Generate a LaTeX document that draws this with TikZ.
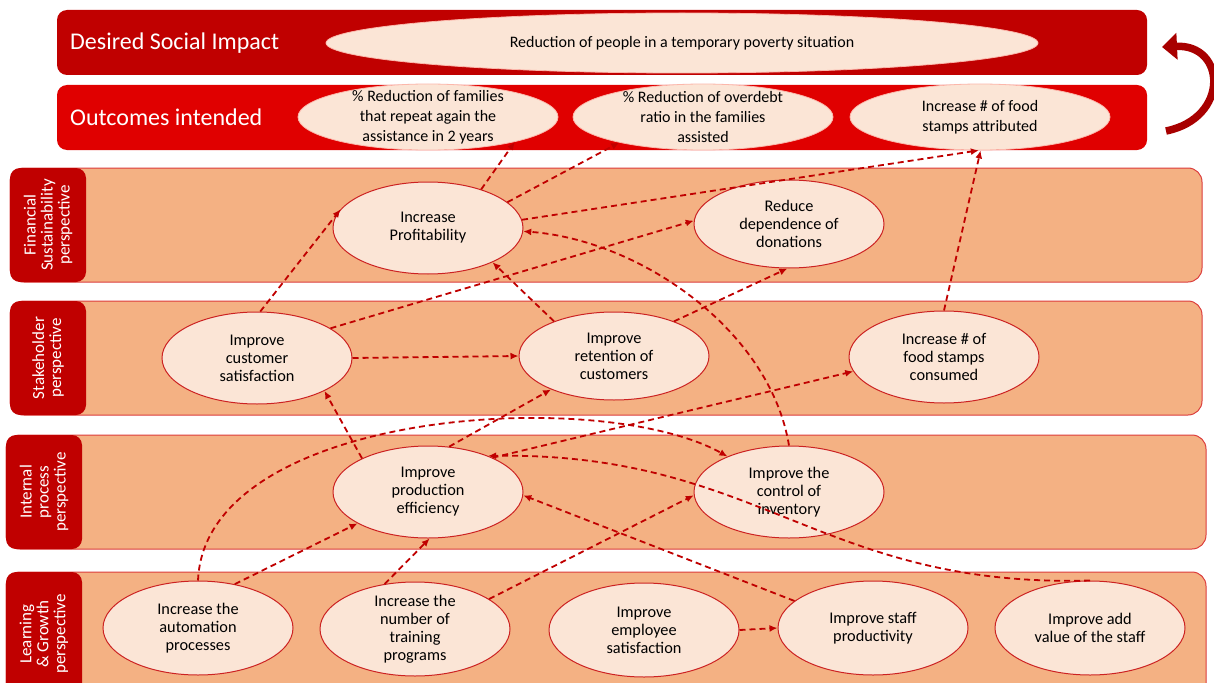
\documentclass[tikz,border=0pt]{standalone}
\usepackage{fontspec}
\setmainfont{Carlito}
\usetikzlibrary{arrows.meta,shapes.geometric}
\definecolor{dred}{HTML}{C00000}
\definecolor{bred}{HTML}{E00000}
\definecolor{bandfill}{HTML}{F4B183}
\definecolor{bandline}{HTML}{DC3C3C}
\definecolor{ellfill}{HTML}{FBE5D6}
\definecolor{ellline}{HTML}{CC2222}
\definecolor{connc}{HTML}{C00000}
\definecolor{carrow}{HTML}{A80000}
\tikzset{
  band/.style={fill=bandfill, draw=bandline, line width=1pt, rounded corners=14pt},
  persp/.style={fill=dred, rounded corners=10pt, text=white, align=center,
    font=\fontsize{17}{17}\selectfont, inner sep=0pt},
  topbar/.style={rounded corners=10pt},
  goal/.style={ellipse, fill=ellfill, draw=ellline, line width=1pt, align=center,
    minimum width=190pt, minimum height=92pt, inner sep=0pt, inner ysep=-8pt,
    font=\fontsize{16.3}{18}\selectfont},
  outell/.style={ellipse, fill=ellfill, draw=ellfill!80!red, line width=0.8pt, align=center,
    minimum width=260pt, minimum height=66pt, inner sep=0pt, inner xsep=-10pt, inner ysep=-12pt,
    font=\fontsize{16}{20}\selectfont},
  conn/.style={draw=connc, line width=1.8pt, dash pattern=on 6pt off 4pt,
    -{Latex[length=8pt,width=7pt]}},
  title/.style={text=white, anchor=west, font=\fontsize{24}{26}\selectfont, inner sep=0pt}
}
\begin{document}
\begin{tikzpicture}[x=1pt,y=-1pt]
\useasboundingbox (0,0) rectangle (1214,682);
\fill[white] (0,0) rectangle (1214,682);

% top bars
\fill[dred, topbar] (57,10) rectangle (1147,75);
\fill[bred, topbar] (57,85) rectangle (1147,150);
\node[title] (tsoc) at (70,43) {Desired Social Impact};
\node[title] (tout) at (70,117) {Outcomes intended};

\node[ellipse, fill=ellfill, draw=ellfill!80!red, line width=0.8pt, minimum width=712pt, minimum height=60pt, inner sep=0pt,
  font=\fontsize{16}{18}\selectfont] (imp) at (682,43) {Reduction of people in a temporary poverty situation};
\node[outell] (fam) at (428,117) {\% Reduction of families\\that repeat again the\\assistance in 2 years};
\node[outell] (debt) at (703,117) {\% Reduction of overdebt\\ratio in the families\\assisted};
\node[outell] (stA) at (980,117) {Increase \# of food\\stamps attributed};

% loop arrow
\draw[line width=7.5pt, color=carrow, -{Triangle[width=26pt,length=15pt]}] (1166,131) .. controls (1230,118) and (1226,44) .. (1162,47);

% bands
\draw[band] (10,168) rectangle (1202,282);
\draw[band] (10,301) rectangle (1202,415);
\draw[band] (6,435) rectangle (1206,549);
\draw[band] (6,572) rectangle (1206,700);

\node[persp, rotate=90, minimum width=114pt, minimum height=76pt] (lfin) at (48,225) {Financial\\Sustainability\\perspective};
\node[persp, rotate=90, minimum width=114pt, minimum height=76pt] (lsta) at (48,358) {Stakeholder\\perspective};
\node[persp, rotate=90, minimum width=114pt, minimum height=76pt] (lint) at (44,492) {Internal\\process\\perspective};
\node[persp, rotate=90, minimum width=124pt, minimum height=76pt] (llea) at (44,634) {Learning\\\& Growth\\perspective};

% goals
\node[goal] (prof) at (428,228) {Increase\\Profitability};
\node[goal, minimum height=88pt] (don) at (789,224) {Reduce\\dependence of\\donations};
\node[goal] (cust) at (257,358) {Improve\\customer\\satisfaction};
\node[goal, minimum height=88pt] (ret) at (614,356) {Improve\\retention of\\customers};
\node[goal] (stC) at (944,357) {Increase \# of\\food stamps\\consumed};
\node[goal] (eff) at (428,492) {Improve\\production\\efficiency};
\node[goal] (inv) at (789,492) {Improve the\\control of\\inventory};
\node[goal, minimum height=94pt] (auto) at (198,628) {Increase the\\automation\\processes};
\node[goal, minimum height=94pt] (train) at (415,629) {Increase the\\number of\\training\\programs};
\node[goal, minimum height=94pt] (emp) at (644,630) {Improve\\employee\\satisfaction};
\node[goal, minimum height=94pt] (prod) at (873,628) {Improve staff\\productivity};
\node[goal, minimum height=94pt] (add) at (1090,628) {Improve add\\value of the staff};

% connectors
\draw[conn] (prof.36) -- (fam.-16);
\draw[conn] (prof.18) -- (debt.-163);
\draw[conn] (prof.5) -- (stA.-92);
\draw[conn] (stC.north) -- (stA.-89);
\draw[conn] (cust.86) -- (prof.168);
\draw[conn] (cust.22) -- (don.178);
\draw[conn] (cust.0) -- (ret.180);
\draw[conn] (ret.150) -- (prof.-28);
\draw[conn] (ret.30) -- (don.-92);
\draw[conn] (eff.153) -- (cust.-26);
\draw[conn] (eff.65) -- (ret.-152);
\draw[conn] (eff.28) -- (stC.-171);
\draw[conn] (auto.north) .. controls (205,410) and (600,385) .. (inv.150);
\draw[conn] (auto.50) -- (eff.-156);
\draw[conn] (train.124) -- (eff.-88);
\draw[conn] (train.22) -- (inv.-178);
\draw[conn] (prod.161) -- (eff.-2);
\draw[conn] (emp.0) -- (prod.180);
\draw[conn] (inv.north) .. controls (770,330) and (640,240) .. (prof.-2);
\draw[conn] (add.north) .. controls (820,588) and (760,452) .. (eff.31);
\end{tikzpicture}
\end{document}
